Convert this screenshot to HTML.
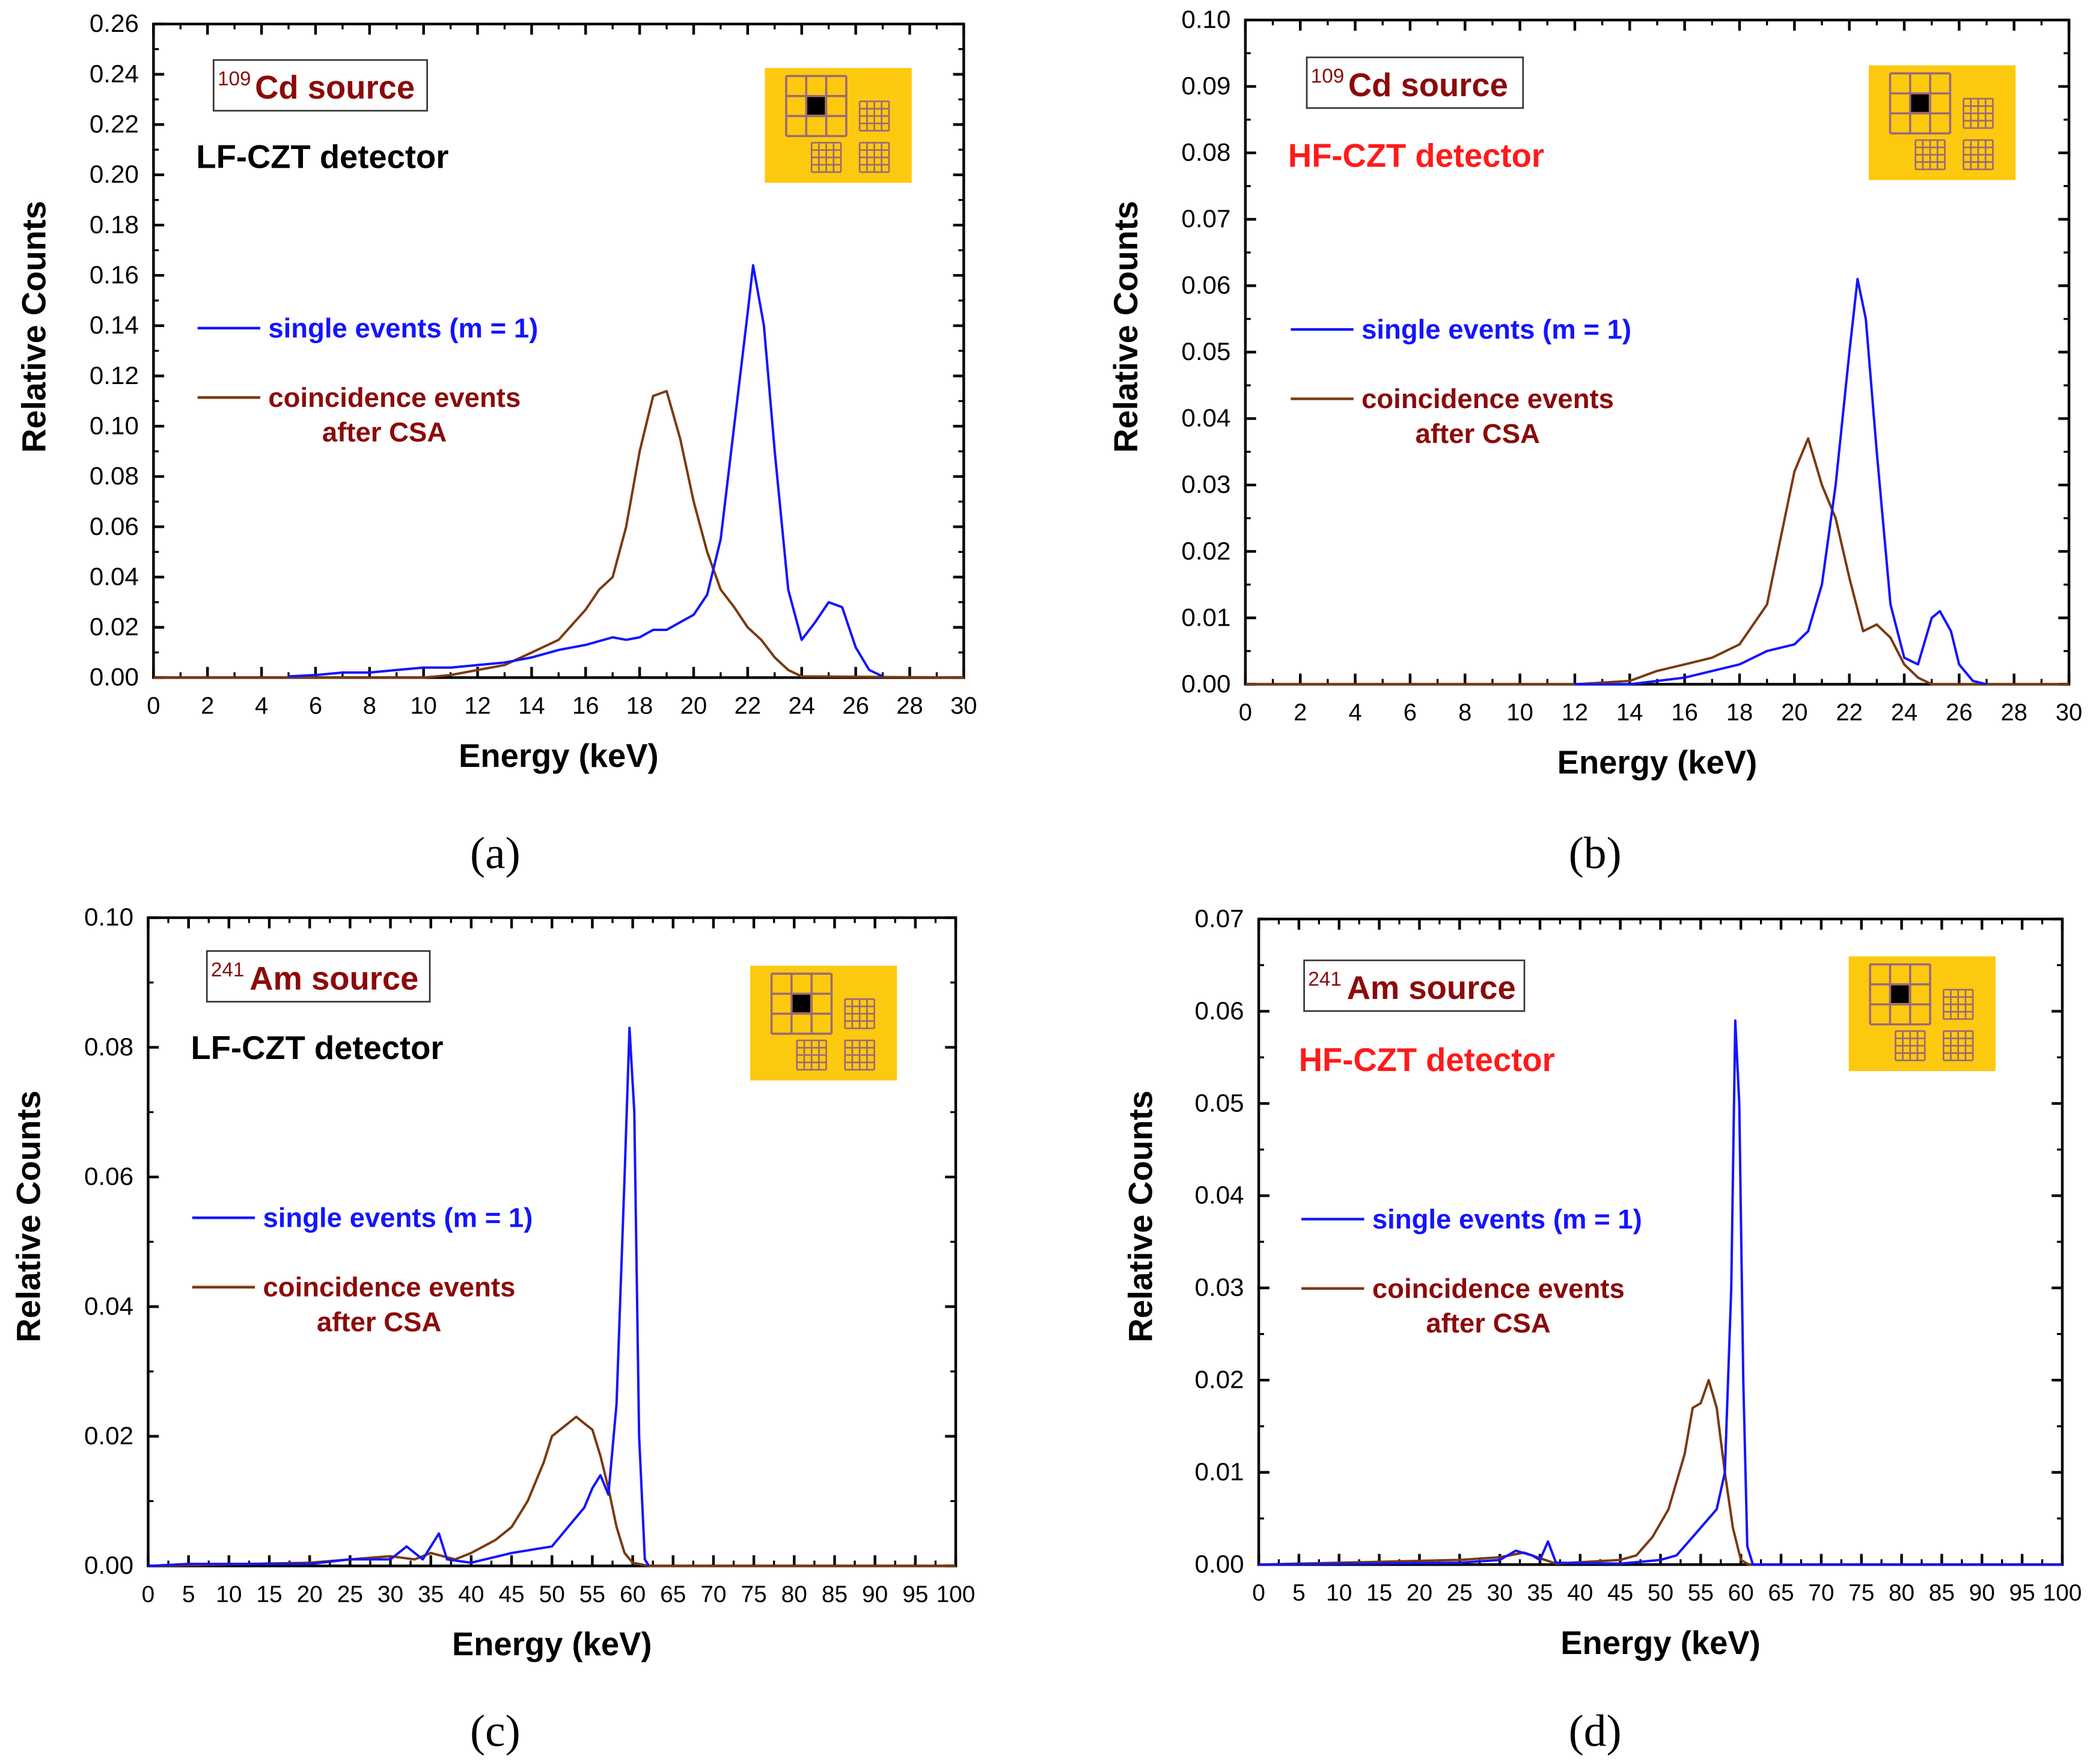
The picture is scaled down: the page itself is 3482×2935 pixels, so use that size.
<!DOCTYPE html>
<html><head><meta charset="utf-8"><style>
html,body{margin:0;padding:0;background:#fff;}
svg{display:block;}
text{font-family:"Liberation Sans",sans-serif;}
</style></head>
<body>
<svg id="fig" width="3482" height="2935" viewBox="0 0 1568 1322.5" preserveAspectRatio="none" xmlns="http://www.w3.org/2000/svg"></svg>
<script>
// ---- data ----
const aSingleE=[5,6,7,8,9,10,11,12,13,14,15,16,17,17.5,18,18.5,19,19.5,20,20.5,21,21.5,22,22.2,22.6,23,23.5,24,24.5,25,25.5,26,26.5,27];
const aSingleC=[0.0005,0.001,0.002,0.002,0.003,0.004,0.004,0.005,0.006,0.008,0.011,0.013,0.016,0.015,0.016,0.019,0.019,0.022,0.025,0.033,0.055,0.10,0.145,0.164,0.14,0.09,0.035,0.015,0.022,0.030,0.028,0.012,0.003,0.0005];
const aCoincE=[0,10,11,12,13,14,15,16,16.5,17,17.5,18,18.5,19,19.5,20,20.5,21,21.5,22,22.5,23,23.5,24,30];
const aCoincC=[0,0,0.001,0.003,0.005,0.010,0.015,0.027,0.035,0.040,0.060,0.090,0.112,0.114,0.095,0.070,0.050,0.035,0.028,0.020,0.015,0.008,0.003,0.0005,0];
const bSingleE=[12,14,16,18,19,20,20.5,21,21.5,22,22.3,22.6,23,23.5,24,24.5,25,25.3,25.7,26,26.5,27];
const bSingleC=[0,0,0.001,0.003,0.005,0.006,0.008,0.015,0.03,0.05,0.061,0.055,0.035,0.012,0.004,0.003,0.010,0.011,0.008,0.003,0.0005,0];
const bCoincE=[0,12,14,15,16,17,18,19,19.5,20,20.5,21,21.5,22,22.5,23,23.5,24,24.5,25,30];
const bCoincC=[0,0,0.0005,0.002,0.003,0.004,0.006,0.012,0.022,0.032,0.037,0.030,0.025,0.016,0.008,0.009,0.007,0.003,0.001,0,0];
const cSingleE=[0,5,20,25,30,32,34,36,37,40,45,50,52,54,55,56,57,58,59,59.6,60.2,60.8,61.5,62];
const cSingleC=[0,0.0003,0.0003,0.001,0.001,0.003,0.001,0.005,0.001,0.0005,0.002,0.003,0.006,0.009,0.012,0.014,0.011,0.025,0.06,0.083,0.07,0.02,0.001,0];
const cCoincE=[0,20,25,30,33,35,38,40,43,45,47,49,50,52,53,54,55,56,57,58,59,60,62,100];
const cCoincC=[0,0.0005,0.001,0.0015,0.001,0.002,0.001,0.002,0.004,0.006,0.010,0.016,0.020,0.022,0.023,0.022,0.021,0.017,0.012,0.006,0.002,0.0005,0,0];
const dSingleE=[0,25,30,32,34,35,36,37,45,50,52,54,56,57,58,58.8,59.3,59.8,60.3,60.8,61.5,100];
const dSingleC=[0,0.0002,0.0005,0.0015,0.001,0.0005,0.0025,0.0002,0.0001,0.0005,0.001,0.003,0.005,0.006,0.010,0.030,0.059,0.050,0.020,0.002,0,0];
const dCoincE=[0,25,30,33,35,37,45,47,49,51,53,54,55,56,57,58,59,60,61,100];
const dCoincC=[0,0.0005,0.0008,0.0013,0.0007,0.0001,0.0005,0.001,0.003,0.006,0.012,0.017,0.0175,0.020,0.017,0.010,0.004,0.0005,0,0];
const xTicks30=[0,2,4,6,8,10,12,14,16,18,20,22,24,26,28,30];
const xTicks100=[0,5,10,15,20,25,30,35,40,45,50,55,60,65,70,75,80,85,90,95,100];
const yTicksA=[0,0.02,0.04,0.06,0.08,0.10,0.12,0.14,0.16,0.18,0.20,0.22,0.24,0.26];
const yTicksB=[0,0.01,0.02,0.03,0.04,0.05,0.06,0.07,0.08,0.09,0.10];
const yTicksC=[0,0.02,0.04,0.06,0.08,0.10];
const yTicksD=[0,0.01,0.02,0.03,0.04,0.05,0.06,0.07];

const NS="http://www.w3.org/2000/svg";
const svg=document.getElementById('fig');
function mk(tag,attrs,parent,txt){const e=document.createElementNS(NS,tag);for(const k in attrs)e.setAttribute(k,attrs[k]);if(txt!==undefined)e.textContent=txt;(parent||svg).appendChild(e);return e;}

const BLUE="#1414ff",BROWN="#7a3a10",DRED="#8b0a0a",RED="#ff1a1a";

function panel(p){
  const g=mk('g',{});
  
  
  const X=v=>p.x0+(v-p.xmin)/(p.xmax-p.xmin)*(p.x1-p.x0);
  const Y=v=>p.y0-(v/p.ymax)*(p.y0-p.y1);
  const fr=mk('rect',{x:p.x0,y:p.y1,width:p.x1-p.x0,height:p.y0-p.y1,fill:'none',stroke:'#000','stroke-width':2},g);
  
  
  const xt=p.xticks;
  for(let i=0;i<xt.length;i++){
    const v=xt[i],x=X(v);
    mk('line',{x1:x,x2:x,y1:p.y0,y2:p.y0-8,stroke:'#000','stroke-width':2},g);
    mk('line',{x1:x,x2:x,y1:p.y1,y2:p.y1+8,stroke:'#000','stroke-width':2},g);
    const t=mk('text',{x:x,y:p.y0+27,'text-anchor':'middle','font-size':p.xfs,fill:'#000'},g,String(v));
    
    
    if(i<xt.length-1){const m=X((v+xt[i+1])/2);
      mk('line',{x1:m,x2:m,y1:p.y0,y2:p.y0-4,stroke:'#000','stroke-width':1.5},g);
      mk('line',{x1:m,x2:m,y1:p.y1,y2:p.y1+4,stroke:'#000','stroke-width':1.5},g);}
  }
  const yt=p.yticks;
  for(let i=0;i<yt.length;i++){
    const v=yt[i],y=Y(v);
    mk('line',{x1:p.x0,x2:p.x0+8,y1:y,y2:y,stroke:'#000','stroke-width':2},g);
    mk('line',{x1:p.x1,x2:p.x1-8,y1:y,y2:y,stroke:'#000','stroke-width':2},g);
    const t=mk('text',{x:p.x0-11,y:y+6,'text-anchor':'end','font-size':19,fill:'#000'},g,v.toFixed(2));
    
    
    if(i<yt.length-1){const m=Y((v+yt[i+1])/2);
      mk('line',{x1:p.x0,x2:p.x0+4,y1:m,y2:m,stroke:'#000','stroke-width':1.5},g);
      mk('line',{x1:p.x1,x2:p.x1-4,y1:m,y2:m,stroke:'#000','stroke-width':1.5},g);}
  }
  function series(E,C,col,name){
    const pts=E.map((e,i)=>X(e).toFixed(1)+','+Y(C[i]).toFixed(1)).join(' ');
    const l=mk('polyline',{points:pts,fill:'none',stroke:col,'stroke-width':1.8,'stroke-linejoin':'round'},g);
    
    
  }
  series(p.cE,p.cC,BROWN,'coincidence-series');
  series(p.sE,p.sC,BLUE,'single-series');
  const xtl=mk('text',{x:(p.x0+p.x1)/2,y:p.y0+67,'text-anchor':'middle','font-size':24.5,'font-weight':'bold'},g,'Energy (keV)');
  
  
  const ytl=mk('text',{x:0,y:0,'text-anchor':'middle','font-size':25,'font-weight':'bold',transform:`translate(${p.ylx},${p.yly}) rotate(-90)`},g,'Relative Counts');
  
  
  const cap=mk('text',{x:p.capx,y:p.capy,'text-anchor':'middle','font-size':34,style:'font-family:"Liberation Serif",serif'},g,p.cap);
  
  
  const sb=mk('g',{},g);
  
  
  mk('rect',{x:p.sbx,y:p.sby,width:p.sbw,height:38,fill:'#fff',stroke:'#333','stroke-width':1.2},sb);
  mk('text',{x:p.sbx+3,y:p.sby+19,'font-size':15,fill:DRED},sb,p.iso);
  mk('text',{x:p.sbx+p.sbo,y:p.sby+29,'font-size':24.5,'font-weight':'bold',fill:DRED},sb,p.src);
  const det=mk('text',{x:p.detx,y:p.dety,'font-size':24.5,'font-weight':'bold',fill:p.detcol},g,p.det);
  
  
  const lg=mk('g',{},g);
  
  
  mk('line',{x1:p.lgx,x2:p.lgx+47,y1:p.lgy,y2:p.lgy,stroke:BLUE,'stroke-width':2},lg);
  mk('text',{x:p.lgx+53,y:p.lgy+7,'font-size':20.5,'font-weight':'bold',fill:BLUE},lg,'single events (m = 1)');
  mk('line',{x1:p.lgx,x2:p.lgx+47,y1:p.lgy+52,y2:p.lgy+52,stroke:BROWN,'stroke-width':2},lg);
  mk('text',{x:p.lgx+53,y:p.lgy+59,'font-size':20.5,'font-weight':'bold',fill:DRED},lg,'coincidence events');
  mk('text',{x:p.lgx+140,y:p.lgy+85,'text-anchor':'middle','font-size':20.5,'font-weight':'bold',fill:DRED},lg,'after CSA');
  const ins=mk('g',{transform:`translate(${p.inx},${p.iny}) scale(${p.ins})`},g);
  
  
  mk('rect',{x:0,y:0,width:110,height:86,fill:'#fdc90f'},ins);
  const gc='#9a6a7a';
  mk('rect',{x:31,y:21,width:14,height:14,fill:'#000'},ins);
  for(let k=0;k<4;k++){mk('line',{x1:16+k*15,x2:16+k*15,y1:6,y2:51,stroke:gc,'stroke-width':1.6},ins);
    mk('line',{x1:16,x2:61,y1:6+k*15,y2:6+k*15,stroke:gc,'stroke-width':1.6},ins);}
  [[71,25],[35,56],[71,56]].forEach(([ox,oy])=>{
    for(let k=0;k<5;k++){mk('line',{x1:ox+k*5.5,x2:ox+k*5.5,y1:oy,y2:oy+22,stroke:gc,'stroke-width':1.2},ins);
      mk('line',{x1:ox,x2:ox+22,y1:oy+k*5.5,y2:oy+k*5.5,stroke:gc,'stroke-width':1.2},ins);}
  });
}

panel({id:'a',x0:115,x1:722,y0:508,y1:18,xmin:0,xmax:30,ymax:0.26,xticks:xTicks30,yticks:yTicksA,xfs:18,
 sE:aSingleE,sC:aSingleC,cE:aCoincE,cC:aCoincC,ylx:34,yly:245,capx:371,capy:651,cap:'(a)',
 sbx:160,sby:45,sbw:160,sbo:31,iso:'109',src:'Cd source',detx:147,dety:126,det:'LF-CZT detector',detcol:'#000',
 lgx:148,lgy:246,inx:573,iny:51,ins:1});
panel({id:'b',x0:933,x1:1550,y0:513,y1:15,xmin:0,xmax:30,ymax:0.10,xticks:xTicks30,yticks:yTicksB,xfs:18,
 sE:bSingleE,sC:bSingleC,cE:bCoincE,cC:bCoincC,ylx:852,yly:245,capx:1195,capy:651,cap:'(b)',
 sbx:979,sby:43,sbw:162,sbo:31,iso:'109',src:'Cd source',detx:965,dety:125,det:'HF-CZT detector',detcol:RED,
 lgx:967,lgy:247,inx:1400,iny:49,ins:1});
panel({id:'c',x0:111,x1:716,y0:1174,y1:688,xmin:0,xmax:100,ymax:0.10,xticks:xTicks100,yticks:yTicksC,xfs:17.5,
 sE:cSingleE,sC:cSingleC,cE:cCoincE,cC:cCoincC,ylx:30,yly:912,capx:371,capy:1309,cap:'(c)',
 sbx:155,sby:713,sbw:167,sbo:32,iso:'241',src:'Am source',detx:143,dety:794,det:'LF-CZT detector',detcol:'#000',
 lgx:144,lgy:913,inx:562,iny:724,ins:1});
panel({id:'d',x0:943,x1:1545,y0:1173,y1:689,xmin:0,xmax:100,ymax:0.07,xticks:xTicks100,yticks:yTicksD,xfs:17.5,
 sE:dSingleE,sC:dSingleC,cE:dCoincE,cC:dCoincC,ylx:863,yly:912,capx:1195,capy:1309,cap:'(d)',
 sbx:977,sby:720,sbw:165,sbo:32,iso:'241',src:'Am source',detx:973,dety:803,det:'HF-CZT detector',detcol:RED,
 lgx:975,lgy:914,inx:1385,iny:717,ins:1});
</script>
</body></html>
